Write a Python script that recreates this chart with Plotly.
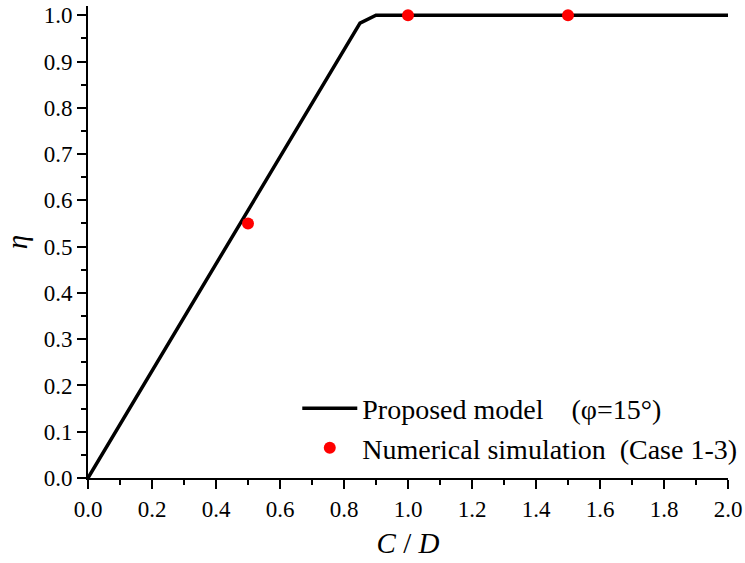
import plotly.graph_objects as go

# Proposed model curve (friction angle 15 degrees)
model_cd = [0.0, 0.85, 0.90, 2.0]
model_eta = [0.0, 0.983, 1.0, 1.0]

# Numerical simulation results, cases 1-3
sim_cd = [0.5, 1.0, 1.5]
sim_eta = [0.55, 1.0, 1.0]

x_ticks = [0.0, 0.2, 0.4, 0.6, 0.8, 1.0, 1.2, 1.4, 1.6, 1.8, 2.0]
y_ticks = [0.0, 0.1, 0.2, 0.3, 0.4, 0.5, 0.6, 0.7, 0.8, 0.9, 1.0]

FONT = "Liberation Serif"
NB = "\u00a0"

fig = go.Figure()
fig.add_trace(go.Scatter(
    x=model_cd, y=model_eta, mode="lines",
    line=dict(color="black", width=3.5),
    name="Proposed model" + NB * 4 + "(φ=15°)",
))
fig.add_trace(go.Scatter(
    x=sim_cd, y=sim_eta, mode="markers",
    marker=dict(color="#ff0000", size=12),
    name="Numerical simulation" + NB * 2 + "(Case 1-3)",
    cliponaxis=False,
))

axis_common = dict(
    showline=True, linecolor="black", linewidth=2,
    ticks="outside", ticklen=9, tickwidth=2, tickcolor="black",
    showgrid=False, zeroline=False, mirror=False, automargin=False,
    tickfont=dict(family=FONT, size=23, color="black"),
)

fig.update_xaxes(
    range=[0, 2.0], tickvals=x_ticks,
    ticktext=[f"{v:.1f}" for v in x_ticks],
    minor=dict(dtick=0.1, ticks="outside", ticklen=5, tickwidth=2, tickcolor="black", showgrid=False),
    title=dict(text="<i>C</i> / <i>D</i>", font=dict(family=FONT, size=29, color="black"), standoff=12),
    **axis_common,
)
fig.update_yaxes(
    range=[0, 1.02], tickvals=y_ticks,
    ticktext=[f"{v:.1f}" for v in y_ticks],
    minor=dict(dtick=0.05, ticks="outside", ticklen=5, tickwidth=2, tickcolor="black", showgrid=False),
    title=dict(text="<i>η</i>", font=dict(family=FONT, size=29, color="black"), standoff=8),
    **axis_common,
)

fig.update_layout(
    width=745, height=563,
    margin=dict(l=88, r=17, t=6, b=85, autoexpand=False),
    paper_bgcolor="white", plot_bgcolor="white",
    font=dict(family=FONT, color="black"),
    showlegend=True,
    legend=dict(
        x=0.327, y=0.2, xanchor="left", yanchor="top",
        bgcolor="rgba(0,0,0,0)", borderwidth=0,
        font=dict(family=FONT, size=28, color="black"),
        itemwidth=55, tracegroupgap=0,
    ),
)

fig.write_html("out.html")
